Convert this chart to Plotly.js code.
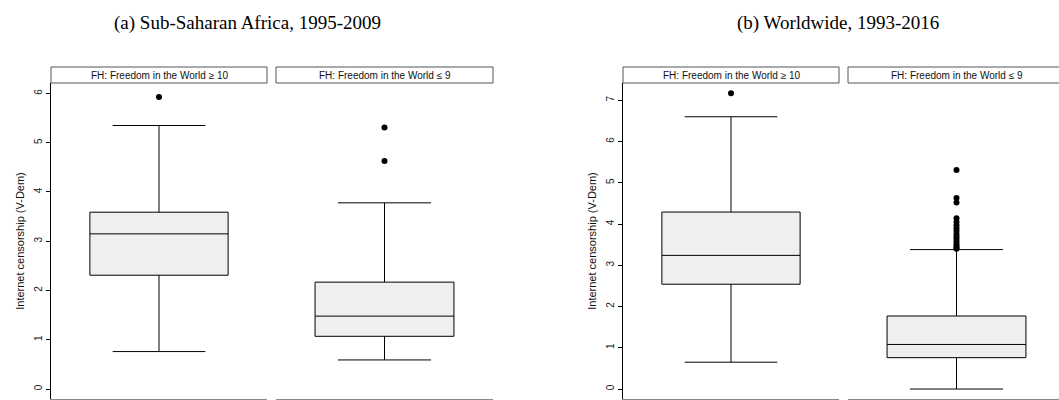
<!DOCTYPE html>
<html>
<head>
<meta charset="utf-8">
<script src="https://cdn.plot.ly/plotly-3.0.1.min.js"></script>
<style>html,body{margin:0;padding:0;background:#fff;}#chart{width:1059px;height:400px;}</style>
</head>
<body>
<div id="chart"></div>
<script>
// ---- Data ----
const chartTitles = ["(a) Sub-Saharan Africa, 1995-2009", "(b) Worldwide, 1993-2016"];
const panelLabels = ["FH: Freedom in the World \u2265 10", "FH: Freedom in the World \u2264 9"];
const yTitle = "Internet censorship (V-Dem)";

// (a) Sub-Saharan Africa: [FH >= 10, FH <= 9]
const ssaLowerFence = [0.76, 0.59];
const ssaQ1 = [2.31, 1.07];
const ssaMedian = [3.15, 1.48];
const ssaQ3 = [3.59, 2.17];
const ssaUpperFence = [5.35, 3.78];
const ssaOutliersHigh = [5.93];
const ssaOutliersLow = [5.31, 4.63];

// (b) Worldwide: [FH >= 10, FH <= 9]
const wLowerFence = [0.65, 0.0];
const wQ1 = [2.54, 0.76];
const wMedian = [3.24, 1.08];
const wQ3 = [4.29, 1.77];
const wUpperFence = [6.60, 3.38];
const wOutliersHigh = [7.17];
const wOutliersLow = [5.31, 4.63, 4.52, 4.14, 4.05, 3.97, 3.90, 3.83, 3.76, 3.70, 3.64, 3.58, 3.52, 3.47, 3.43, 3.40];

// ---- Layout helpers ----
const W = 1059, H = 400;
const px = v => v / W;
const py = v => 1 - v / H;
const plotTop = 83, plotBottom = 399, stripTop = 67;

const panelsPx = [[51, 267], [276, 493], [623, 839], [848, 1065]];
const boxColor = '#efefef';

function boxTrace(xa, ya, lf, q1, med, q3, uf) {
  return {
    type: 'box', x: [0], q1: [q1], median: [med], q3: [q3],
    lowerfence: [lf], upperfence: [uf],
    width: 0.64, whiskerwidth: 0.67,
    fillcolor: boxColor, line: {color: '#000', width: 1},
    boxpoints: false, xaxis: xa, yaxis: ya, showlegend: false, hoverinfo: 'y'
  };
}
function outTrace(vals, xa, ya) {
  return {
    type: 'scatter', mode: 'markers', x: vals.map(() => 0), y: vals,
    marker: {color: '#000', size: 6}, xaxis: xa, yaxis: ya, showlegend: false
  };
}

const data = [
  boxTrace('x', 'y', ssaLowerFence[0], ssaQ1[0], ssaMedian[0], ssaQ3[0], ssaUpperFence[0]),
  outTrace(ssaOutliersHigh, 'x', 'y'),
  boxTrace('x2', 'y2', ssaLowerFence[1], ssaQ1[1], ssaMedian[1], ssaQ3[1], ssaUpperFence[1]),
  outTrace(ssaOutliersLow, 'x2', 'y2'),
  boxTrace('x3', 'y3', wLowerFence[0], wQ1[0], wMedian[0], wQ3[0], wUpperFence[0]),
  outTrace(wOutliersHigh, 'x3', 'y3'),
  boxTrace('x4', 'y4', wLowerFence[1], wQ1[1], wMedian[1], wQ3[1], wUpperFence[1]),
  outTrace(wOutliersLow, 'x4', 'y4')
];

const yDom = [py(plotBottom), py(plotTop)];
const ssaRange = [-0.203, 6.213];
const wRange = [-0.242, 7.418];

function xAxis(i) {
  const p = panelsPx[i];
  const dEnd = Math.min(p[1], W);
  const rEnd = -0.5 + (dEnd - p[0]) / (p[1] - p[0]);
  return {
    domain: [px(p[0]), px(dEnd)], range: [-0.5, rEnd], showticklabels: false,
    showgrid: false, zeroline: false, ticks: '', showline: true,
    linecolor: '#8a8a8a', linewidth: 1, fixedrange: true
  };
}
function yAxis(range, anchor, showAxis) {
  const a = {
    domain: yDom, range: range, anchor: anchor, showgrid: false, zeroline: false,
    fixedrange: true
  };
  if (showAxis) {
    Object.assign(a, {
      showline: true, linecolor: '#000', linewidth: 1, ticks: 'outside', ticklen: 4,
      tickcolor: '#000', tickwidth: 1, tickangle: -90, dtick: 1,
      tickfont: {family: 'Liberation Sans, Arial, sans-serif', size: 10, color: '#222'},
      title: {text: yTitle, standoff: 6,
              font: {family: 'Liberation Sans, Arial, sans-serif', size: 11, color: '#111'}}
    });
  } else {
    Object.assign(a, {showline: false, showticklabels: false, ticks: ''});
  }
  return a;
}

const shapes = [], annotations = [];
panelsPx.forEach((p, i) => {
  shapes.push({type: 'rect', xref: 'paper', yref: 'paper',
    x0: px(p[0]), x1: px(p[1]), y0: py(plotTop), y1: py(stripTop),
    line: {color: '#555', width: 1}, fillcolor: '#fff', layer: 'above'});
  annotations.push({xref: 'paper', yref: 'paper', x: px((p[0] + p[1]) / 2), y: py((plotTop + stripTop) / 2),
    text: panelLabels[i % 2], showarrow: false, xanchor: 'center', yanchor: 'middle',
    font: {family: 'Liberation Sans, Arial, sans-serif', size: 10, color: '#111'}});
});
annotations.push({xref: 'paper', yref: 'paper', x: px(247), y: py(23), text: chartTitles[0],
  showarrow: false, xanchor: 'center', yanchor: 'middle',
  font: {family: 'Liberation Serif, Times New Roman, serif', size: 19, color: '#000'}});
annotations.push({xref: 'paper', yref: 'paper', x: px(838), y: py(23), text: chartTitles[1],
  showarrow: false, xanchor: 'center', yanchor: 'middle',
  font: {family: 'Liberation Serif, Times New Roman, serif', size: 19, color: '#000'}});

const layout = {
  width: W, height: H, margin: {l: 0, r: 0, t: 0, b: 0},
  paper_bgcolor: '#fff', plot_bgcolor: '#fff', showlegend: false,
  xaxis: xAxis(0), xaxis2: xAxis(1), xaxis3: xAxis(2), xaxis4: xAxis(3),
  yaxis: yAxis(ssaRange, 'x', true),
  yaxis2: yAxis(ssaRange, 'x2', false),
  yaxis3: yAxis(wRange, 'x3', true),
  yaxis4: yAxis(wRange, 'x4', false),
  shapes: shapes, annotations: annotations
};

Plotly.newPlot('chart', data, layout, {displayModeBar: false, staticPlot: true});
</script>
</body>
</html>
